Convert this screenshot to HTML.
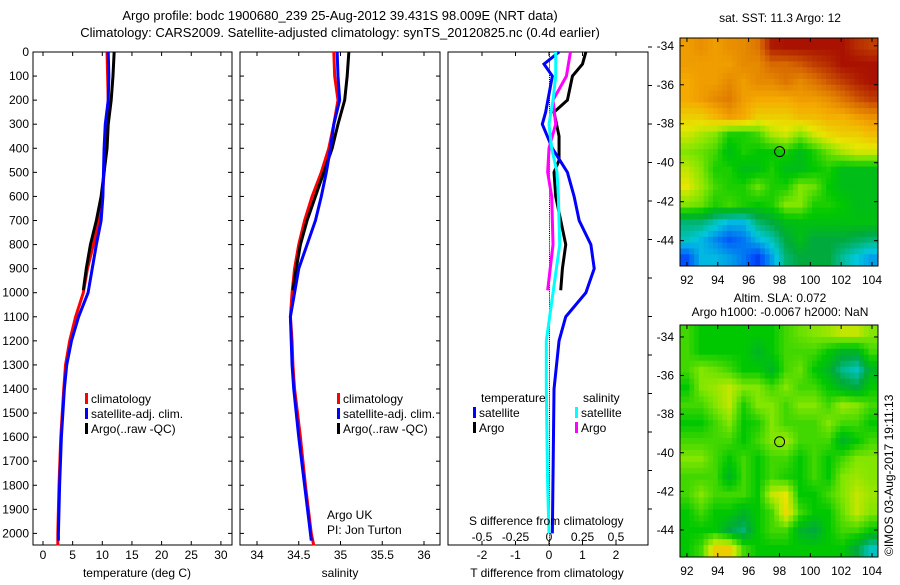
<!DOCTYPE html>
<html><head><meta charset="utf-8"><style>
body{margin:0;background:#fff;width:900px;height:580px;overflow:hidden}
svg{font-family:"Liberation Sans",sans-serif;font-size:12px}
</style></head><body>
<svg id="s" width="900" height="580">
<text x="340" y="20" text-anchor="middle" font-size="13">Argo profile: bodc 1900680_239 25-Aug-2012 39.431S 98.009E (NRT data)</text>
<text x="340" y="37" text-anchor="middle" font-size="13">Climatology: CARS2009. Satellite-adjusted climatology: synTS_20120825.nc (0.4d earlier)</text>
<g id="g"></g>
<text x="780" y="22" text-anchor="middle">sat. SST: 11.3 Argo: 12</text>
<text x="780" y="302" text-anchor="middle">Altim. SLA: 0.072</text>
<text x="780" y="316" text-anchor="middle">Argo h1000: -0.0067 h2000: NaN</text>
<text transform="translate(893,556) rotate(-90)">©IMOS 03-Aug-2017 19:11:13</text>
<text x="327" y="519">Argo UK</text>
<text x="327" y="534">PI: Jon Turton</text>
<text x="469" y="525">S difference from climatology</text>
<text x="137" y="577" text-anchor="middle">temperature (deg C)</text>
<text x="340" y="577" text-anchor="middle">salinity</text>
<text x="547" y="577" text-anchor="middle">T difference from climatology</text>
</svg>
<script>
// ---- data ----
const depthTicks=[0,100,200,300,400,500,600,700,800,900,1000,1100,1200,1300,1400,1500,1600,1700,1800,1900,2000];
const tTicks=[0,5,10,15,20,25,30];
const sTicks=[34,34.5,35,35.5,36];
const tdTicks=[-2,-1,0,1,2];
const sdTicks=[-0.5,-0.25,0,0.25,0.5];
const sdTickLabels=["-0.5","-0.25","0","0.25","0.5"];
const climDepth=[0,100,200,300,400,500,600,700,800,900,1000,1100,1200,1300,1400,1600,1800,2000,2050];
const climT=[10.8,10.9,11,10.7,10.5,10.3,10,9.5,8.5,7.5,6.8,5.5,4.5,3.8,3.5,3.0,2.7,2.5,2.5];
const climS=[34.92,34.93,34.97,34.92,34.86,34.77,34.66,34.57,34.5,34.45,34.42,34.4,34.42,34.43,34.45,34.52,34.58,34.65,34.68];
const satDepth=[0,100,200,300,400,500,600,700,800,900,1000,1100,1200,1300,1400,1600,1800,2000,2030];
const satT=[11,11.1,11,10.5,10.3,10.2,10.1,9.8,9,8.3,7.6,6,4.8,4,3.6,3.1,2.8,2.6,2.6];
const satS=[34.96,34.97,34.99,34.92,34.88,34.83,34.77,34.7,34.6,34.5,34.45,34.4,34.41,34.42,34.44,34.5,34.57,34.64,34.65];
const argoDepth=[0,100,200,300,400,500,600,700,800,900,990];
const argoT=[12,11.8,11.5,11,10.8,10.3,9.8,9,8,7.3,6.8];
const argoS=[35.1,35.08,35.05,34.97,34.9,34.8,34.7,34.6,34.52,34.47,34.43];
const tdDepth=[0,50,100,200,250,350,450,500,600,800,900,990];
const argoTd=[1.1,1.0,0.7,0.55,0.15,0.3,0.3,0.15,0.2,0.5,0.4,0.35];
const satTdDepth=[0,50,100,250,300,400,500,600,700,800,900,1000,1100,1200,1400,2000];
const satTd=[0.3,-0.15,0.1,-0.1,-0.2,0.1,0.55,0.75,0.9,1.25,1.35,1.1,0.5,0.3,0.15,0.1];
const sdArgoDepth=[0,100,200,300,400,500,600,800,990];
const argoSd=[0.16,0.13,0.03,0.05,0.0,-0.01,0.02,0.03,-0.01];
const sdSatDepth=[0,100,200,300,400,500,600,800,1000,1200,1400,1800,2000];
const satSd=[0.05,0.05,0.03,0.0,0.02,0.06,0.07,0.08,0.03,-0.02,-0.02,-0.01,0.0];
const lonTicks=[92,94,96,98,100,102,104];
const latTicks=[-34,-36,-38,-40,-42,-44];
const sstGrid=[
[.8,.82,.8,.82,.83,.86,.97,.98,.98,.98,.98,.98,.95,.93],
[.8,.8,.8,.8,.83,.83,.88,.88,.9,.93,.95,.98,.98,.98],
[.78,.8,.8,.83,.8,.83,.83,.86,.83,.86,.9,.93,.96,.98],
[.78,.8,.83,.85,.8,.78,.78,.78,.8,.8,.82,.86,.9,.93],
[.72,.72,.76,.8,.78,.72,.72,.72,.75,.75,.77,.77,.8,.82],
[.66,.63,.6,.52,.52,.55,.63,.66,.6,.66,.7,.72,.72,.75],
[.6,.58,.55,.47,.52,.5,.5,.52,.47,.52,.58,.63,.66,.66],
[.65,.6,.52,.52,.47,.48,.52,.47,.47,.5,.52,.47,.47,.47],
[.68,.62,.55,.52,.52,.58,.52,.52,.6,.58,.5,.47,.47,.47],
[.6,.58,.52,.55,.52,.5,.52,.6,.6,.52,.52,.5,.47,.47],
[.38,.38,.33,.28,.28,.38,.42,.47,.48,.48,.48,.48,.48,.48],
[.32,.28,.22,.16,.2,.28,.33,.42,.47,.42,.42,.42,.4,.38],
[.15,.28,.28,.25,.2,.12,.25,.38,.42,.42,.42,.35,.3,.25]];
const slaGrid=[
[.55,.5,.5,.5,.5,.5,.5,.55,.58,.6,.62,.65,.65,.6],
[.55,.5,.5,.5,.5,.45,.5,.55,.55,.55,.5,.45,.45,.55],
[.55,.6,.58,.55,.5,.5,.45,.55,.58,.5,.45,.36,.32,.45],
[.5,.6,.62,.65,.6,.6,.55,.6,.55,.55,.5,.45,.42,.5],
[.55,.55,.6,.65,.52,.6,.6,.55,.6,.6,.55,.62,.6,.55],
[.5,.5,.55,.6,.5,.52,.6,.55,.55,.55,.6,.55,.55,.5],
[.55,.55,.55,.55,.5,.55,.6,.62,.55,.55,.55,.45,.5,.55],
[.6,.6,.55,.5,.55,.5,.55,.55,.5,.55,.5,.55,.6,.6],
[.55,.55,.55,.45,.55,.5,.55,.52,.5,.55,.5,.6,.62,.6],
[.55,.6,.55,.55,.55,.5,.65,.68,.5,.5,.55,.6,.65,.62],
[.5,.55,.5,.5,.45,.5,.55,.7,.55,.5,.5,.58,.65,.6],
[.5,.5,.5,.42,.38,.5,.55,.55,.45,.42,.5,.55,.55,.5],
[.5,.55,.72,.72,.55,.5,.5,.5,.5,.5,.5,.5,.42,.32]];
const argoLon=98.009, argoLat=-39.431;

// ---- drawing ----
const NS='http://www.w3.org/2000/svg';const G=document.getElementById('g');
function el(t,a,p){const e=document.createElementNS(NS,t);for(const k in a)e.setAttribute(k,a[k]);(p||G).appendChild(e);return e;}
const PT=52,PB=545;
const yD=d=>PT+d*0.2407;
const xT=v=>43+v*5.93, xS=v=>257+(v-34)*83.5, xTd=v=>549+v*33.5, xSd=v=>549+v*134;
function line(xs,ds,fx,col,name,w){
  const p=el('polyline',{points:xs.map((v,i)=>fx(v)+','+yD(ds[i])).join(' '),fill:'none',stroke:col,'stroke-width':w||3});
  
  
}
function frame(x0,x1,name){
  const r=el('rect',{x:x0,y:PT,width:x1-x0,height:PB-PT,fill:'none',stroke:'#000'});
  
  
}
frame(33,232,'temperature-panel');frame(240,440,'salinity-panel');frame(448,648,'difference-panel');
depthTicks.forEach(d=>{const y=yD(d);
  const t=el('text',{x:29,y:y+4,'text-anchor':'end'});t.textContent=d;
  
  
  [[33,37],[228,232],[240,244],[436,440]].forEach(([a,b])=>el('line',{x1:a,x2:b,y1:y,y2:y,stroke:'#000'}));
});
for(let y=47;y<PB;y+=38.5)el('line',{x1:648,x2:652,y1:y,y2:y,stroke:'#000'});
function xaxis(ticks,fx,labels,yl,name,top){
  ticks.forEach((v,i)=>{const x=fx(v);
    el('line',{x1:x,x2:x,y1:PB,y2:PB-4,stroke:'#000'});
    if(top)el('line',{x1:x,x2:x,y1:PT,y2:PT+4,stroke:'#000'});
    const t=el('text',{x:x,y:yl,'text-anchor':'middle'});t.textContent=labels?labels[i]:v;
    
    
  });
}
xaxis(tTicks,xT,null,559,'temperature-tick-label',true);
xaxis(sTicks,xS,null,559,'salinity-tick-label',true);
xaxis(tdTicks,xTd,null,559,'t-diff-tick-label',true);
sdTicks.forEach((v,i)=>{const t=el('text',{x:xSd(v),y:541,'text-anchor':'middle'});t.textContent=sdTickLabels[i];
  
  });
for(let d=0;d<2050;d+=8)el('rect',{x:xTd(0),y:yD(d),width:1,height:1,fill:'#000'});
line(climT,climDepth,xT,'#f00','clim-temperature-line');
line(argoT,argoDepth,xT,'#000','argo-temperature-line');
line(satT,satDepth,xT,'#00f','sat-temperature-line');
line(climS,climDepth,xS,'#f00','clim-salinity-line');
line(argoS,argoDepth,xS,'#000','argo-salinity-line');
line(satS,satDepth,xS,'#00f','sat-salinity-line');
line(argoTd,tdDepth,xTd,'#000','argo-tdiff-line');
line(satTd,satTdDepth,xTd,'#00f','sat-tdiff-line');
line(argoSd,sdArgoDepth,xSd,'#f0f','argo-sdiff-line');
line(satSd,sdSatDepth,xSd,'#0ff','sat-sdiff-line');
function legend(x,y,col,txt,name){
  el('rect',{x:x,y:y-10,width:3,height:11,fill:col});
  const t=el('text',{x:x+6,y:y});t.textContent=txt;
  
  
}
[['#f00','climatology'],['#00f','satellite-adj. clim.'],['#000','Argo(..raw -QC)']].forEach((a,i)=>legend(85,403+i*15,a[0],a[1],'legend-entry'));
[['#f00','climatology'],['#00f','satellite-adj. clim.'],['#000','Argo(..raw -QC)']].forEach((a,i)=>legend(337,403+i*15,a[0],a[1],'legend-entry'));
{const t=el('text',{x:481,y:402});t.textContent='temperature';
 const u=el('text',{x:583,y:402});u.textContent='salinity';}
legend(473,417,'#00f','satellite','legend-entry');legend(473,432,'#000','Argo','legend-entry');
legend(575,417,'#0ff','satellite','legend-entry');legend(575,432,'#f0f','Argo','legend-entry');
// maps
const cmStops=[[0,0,0,160],[.15,0,80,255],[.3,0,200,220],[.42,0,170,60],[.5,0,200,0],[.6,130,230,0],[.68,230,230,0],[.78,245,170,0],[.88,215,105,0],[1,160,0,0]];
function cmap(v){v=Math.max(0,Math.min(1,v));
  for(let k=1;k<cmStops.length;k++){const a=cmStops[k-1],b=cmStops[k];
    if(v<=b[0]){const f=(v-a[0])/(b[0]-a[0]);return 'rgb('+[1,2,3].map(i=>Math.round(a[i]+f*(b[i]-a[i]))).join(',')+')';}}
  return 'rgb(160,0,0)';}
function sample(grid,r,c){const R=grid.length-1,C=grid[0].length-1;
  r=Math.max(0,Math.min(R,r));c=Math.max(0,Math.min(C,c));
  const r0=Math.floor(r),c0=Math.floor(c),r1=Math.min(R,r0+1),c1=Math.min(C,c0+1),fr=r-r0,fc=c-c0;
  return grid[r0][c0]*(1-fr)*(1-fc)+grid[r0][c1]*(1-fr)*fc+grid[r1][c0]*fr*(1-fc)+grid[r1][c1]*fr*fc;}
function map(grid,y0,y1,latTop,latBot,name){
  const x0=680,x1=878,lonL=91.55,lonR=104.39,rows=grid.length,cols=grid[0].length,N=3;
  const cw=(x1-x0)/(cols*N),rh=(y1-y0)/(rows*N);
  for(let i=0;i<rows*N;i++)for(let j=0;j<cols*N;j++){
    const v=sample(grid,(i+0.5)/N-0.5,(j+0.5)/N-0.5);
    el('rect',{x:x0+j*cw,y:y0+i*rh,width:cw+0.4,height:rh+0.4,fill:cmap(v)});}
  const fr=el('rect',{x:x0,y:y0,width:x1-x0,height:y1-y0,fill:'none',stroke:'#000'});
  
  
  const lx=v=>x0+(v-lonL)/(lonR-lonL)*(x1-x0), ly=v=>y0+(latTop-v)/(latTop-latBot)*(y1-y0);
  lonTicks.forEach(v=>{el('line',{x1:lx(v),x2:lx(v),y1:y0,y2:y0+4,stroke:'#000'});el('line',{x1:lx(v),x2:lx(v),y1:y1,y2:y1-4,stroke:'#000'});
    const t=el('text',{x:lx(v),y:y1+18,'text-anchor':'middle'});t.textContent=v;
    
    });
  latTicks.forEach(v=>{el('line',{x1:x0,x2:x0+4,y1:ly(v),y2:ly(v),stroke:'#000'});el('line',{x1:x1,x2:x1-4,y1:ly(v),y2:ly(v),stroke:'#000'});
    const t=el('text',{x:x0-6,y:ly(v)+4,'text-anchor':'end'});t.textContent=v;
    
    });
  const c=el('circle',{cx:lx(argoLon),cy:ly(argoLat),r:5,fill:'none',stroke:'#000'});
  
  
}
map(sstGrid,38,266,-33.6,-45.3,'sst-map');
map(slaGrid,325,557,-33.38,-45.4,'sla-map');
</script>
</body></html>
